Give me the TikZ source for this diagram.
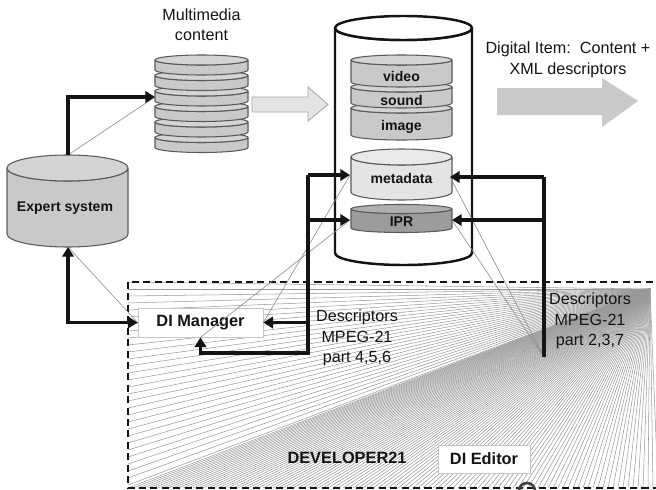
\documentclass[tikz,border=0pt]{standalone}
\usepackage{fontspec}
\setmainfont{Liberation Sans}
\usetikzlibrary{arrows.meta}
\definecolor{ink}{HTML}{141414}
\definecolor{disc}{HTML}{C9C9C9}
\definecolor{discl}{HTML}{E4E4E4}
\definecolor{discd}{HTML}{9C9C9C}
\definecolor{rule}{HTML}{8C8C8C}
\tikzset{
  cyl/.style={draw=ink!70, line width=0.6pt, line join=round},
  big/.style={draw=ink, line width=1.4pt},
  wire/.style={draw=ink, line width=2pt, -{Triangle[length=5.5pt,width=6.5pt]}},
  bus/.style={draw=ink, line width=2pt},
  shadow/.style={draw=rule, line width=0.35pt},
  ray/.style={draw=gray!80, line width=0.3pt},
  lab/.style={text=ink, font=\fontsize{9.2}{11.6}\selectfont, align=center, inner sep=0pt},
  clab/.style={text=ink, font=\bfseries\fontsize{8}{10}\selectfont, inner sep=0pt},
  blab/.style={text=ink, font=\bfseries\fontsize{9.3}{11}\selectfont, inner sep=0pt},
  box/.style={blab, draw=gray!45, fill=white},
  gar/.style={fill=discl, draw=gray!70, line width=0.5pt},
}
% cylinder: [style] cx, rx, top, bottom, ry, fill
\newcommand{\dbcyl}[7][cyl]{%
  \filldraw[#1, fill=#7] ({#2-#3},#4) -- ({#2-#3},#5)
    arc[start angle=180, end angle=0, x radius=#3, y radius=#6] -- ({#2+#3},#4)
    arc[start angle=0, end angle=180, x radius=#3, y radius=#6] -- cycle;
  \filldraw[#1, fill=#7!80!white] (#2,#4) ellipse[x radius=#3, y radius=#6];
}

\begin{document}
\begin{tikzpicture}[x=0.02cm, y=-0.02cm]
  \useasboundingbox (0,0) rectangle (656,490);

  % developer area: ray fan
  \coordinate (apex) at (650,289);
  \begin{scope}
    \clip (128,282) rectangle (656,488);
    \foreach \yy in {282,289,...,488} \draw[ray] (apex) -- (128,\yy);
    \foreach \xx in {128,133,...,660} \draw[ray] (apex) -- (\xx,488);
  \end{scope}
  \draw[ink, line width=1.4pt, dash pattern=on 4pt off 2.5pt] (128,282) rectangle (664,488);
  \begin{scope}
    \clip (0,0) rectangle (656,490);
    \draw[ink!80, line width=1.5pt] (519,491) arc[start angle=180, end angle=360, radius=8];
  \end{scope}

  % cylinders
  \dbcyl{67.5}{60.5}{168}{234}{13}{disc}
  \foreach \i in {5,4,...,0} {\dbcyl{201.5}{46.5}{60+15.5*\i}{70+15.5*\i}{5}{disc}}
  \dbcyl[cyl,big]{403.5}{68.5}{28}{253}{12}{white}
  \dbcyl{401.5}{50.5}{108}{135}{5}{disc}
  \dbcyl{401.5}{50.5}{87}{103}{5}{disc}
  \dbcyl{401.5}{50.5}{60}{82}{5}{disc}
  \dbcyl{401.5}{50.5}{157}{192}{8}{discl}
  \dbcyl{401.5}{50.5}{209}{228}{4.5}{discd}

  % grey arrows
  \filldraw[gar] (252,97) -- (308,97) -- (308,87) -- (328,104.5) -- (308,121) -- (308,112) -- (252,112) -- cycle;
  \fill[disc] (497,88) -- (602,88) -- (602,78) -- (638,101) -- (602,127) -- (602,115) -- (497,115) -- cycle;

  % labels
  \node[lab] (mmlab) at (201.5,25) {Multimedia\\content};
  \node[lab] (dilab) at (568,60) {Digital Item:~~Content +\\XML descriptors};
  \node[clab] (es) at (65,208) {Expert system};
  \node[clab] (video) at (401.5,76) {video};
  \node[clab] (sound) at (401.5,100) {sound};
  \node[clab] (image) at (401.5,127) {image};
  \node[clab] (meta) at (401.5,178) {metadata};
  \node[clab] (ipr) at (401.5,222) {IPR};
  \node[box, minimum width=2.5cm, minimum height=0.58cm] (dim) at (200.5,322.5) {DI Manager};
  \node[box, minimum width=1.84cm, minimum height=0.56cm] (die) at (484,459) {DI Editor};
  \node[blab] (dev) at (347,458) {DEVELOPER21};
  \node[lab] (dleft) at (357,338) {Descriptors\\MPEG-21\\part 4,5,6};
  \node[lab] (dright) at (590,321) {Descriptors\\MPEG-21\\part 2,3,7};

  % connection points
  \coordinate (esTop) at (68,155);
  \coordinate (esBot) at (68,247);
  \coordinate (mmIn) at (155,97);
  \coordinate (busLa) at (308,175);
  \coordinate (busLb) at (308,353);
  \coordinate (mdL) at (350,175);
  \coordinate (iprL) at (350,220);
  \coordinate (busRa) at (544,177);
  \coordinate (busRb) at (544,357);
  \coordinate (mdR) at (450,177);
  \coordinate (iprR) at (452,220);

  % thin grey guide lines
  \draw[shadow] (esTop) -- (mmIn);
  \draw[shadow] (esBot) -- (dim.west);
  \draw[shadow] (dim.east) -- (mdL);
  \draw[shadow] (dim.south) -- (iprL);
  \draw[shadow] (mdR) -- (busRb);
  \draw[shadow] (iprR) -- (busRb);

  % connectors
  \draw[wire] (esTop) |- (mmIn);
  \draw[wire, {Triangle[length=5.5pt,width=6.5pt]}-{Triangle[length=5.5pt,width=6.5pt]}] (esBot) |- (dim.west);
  \draw[wire] (busLa) -- (mdL);
  \draw[wire] (busLa |- iprL) -- (iprL);
  \draw[wire] (busLa |- dim.east) -- (dim.east);
  \draw[wire] (busLa) -- (busLb) -| (dim.south);
  \draw[bus] (busRa) -- (busRb);
  \draw[wire] (busRa) -- (mdR);
  \draw[wire] (busRa |- iprR) -- (iprR);
\end{tikzpicture}
\end{document}
